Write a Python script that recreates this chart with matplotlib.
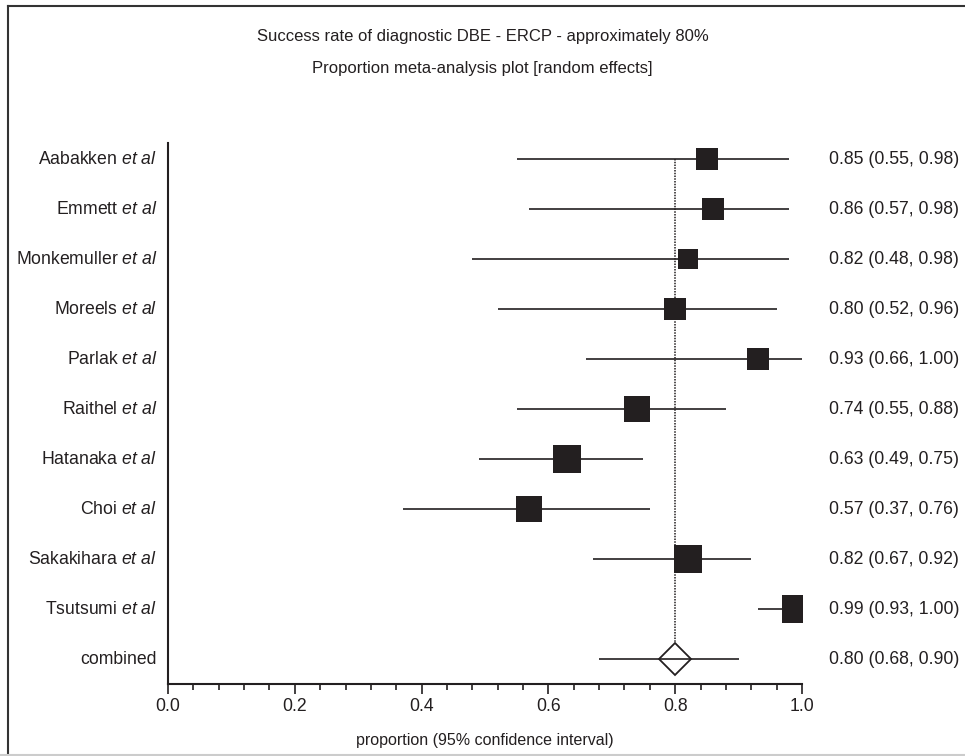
import numpy as np
import matplotlib
matplotlib.use('Agg')
import matplotlib.pyplot as plt
from matplotlib.lines import Line2D
from matplotlib.ticker import MultipleLocator

# study data (proportion with 95% CI)
studies = ['Aabakken', 'Emmett', 'Monkemuller', 'Moreels', 'Parlak',
           'Raithel', 'Hatanaka', 'Choi', 'Sakakihara', 'Tsutsumi']
proportions = [0.85, 0.86, 0.82, 0.80, 0.93, 0.74, 0.63, 0.57, 0.82, 0.99]
ci_low = [0.55, 0.57, 0.48, 0.52, 0.66, 0.55, 0.49, 0.37, 0.67, 0.93]
ci_high = [0.98, 0.98, 0.98, 0.96, 1.00, 0.88, 0.75, 0.76, 0.92, 1.00]
# relative weights (%)
weights = [8.2, 8.2, 6.8, 8.2, 8.2, 11.2, 12.7, 11.2, 12.4, 12.7]

pooled = 0.80
pooled_low = 0.68
pooled_high = 0.90

title1 = 'Success rate of diagnostic DBE - ERCP - approximately 80%'
title2 = 'Proportion meta-analysis plot [random effects]'
xlabel = 'proportion (95% confidence interval)'

plt.rcParams['font.family'] = ['Liberation Sans', 'DejaVu Sans']
plt.rcParams['mathtext.fontset'] = 'custom'
plt.rcParams['mathtext.rm'] = 'Liberation Sans'
plt.rcParams['mathtext.it'] = 'Liberation Sans:italic'

ink = '#231f20'
W, H = 965, 756
fig = plt.figure(figsize=(W / 100, H / 100), dpi=100)
ax = fig.add_axes([168 / W, 1 - 684 / H, (802 - 168) / W, (684 - 143) / H])

n = len(studies)
fs = 12.7

for i in range(n):
    y = -i
    ax.plot([ci_low[i], ci_high[i]], [y, y], color=ink, lw=1.2, solid_capstyle='butt')
    # box side in px ~ sqrt(weight), converted to points
    side = 7.68 * np.sqrt(weights[i]) * 0.72
    ax.plot(proportions[i], y, 's', ms=side, color=ink, mew=0)
    ax.text(-0.017, y, studies[i] + r' $\mathit{et\ al}$', transform=ax.get_yaxis_transform(),
            ha='right', va='center', fontsize=fs, color=ink)
    ax.text(1.043, y, f'{proportions[i]:.2f} ({ci_low[i]:.2f}, {ci_high[i]:.2f})',
            transform=ax.get_yaxis_transform(), ha='left', va='center', fontsize=fs, color=ink)

# combined estimate
yc = -n
ax.plot([pooled_low, pooled_high], [yc, yc], color=ink, lw=1.2, solid_capstyle='butt')
ax.plot(pooled, yc, 'D', ms=16.8, mfc='none', mec=ink, mew=1.3)
ax.plot([pooled, pooled], [0, yc + 0.33], color=ink, lw=1.1, ls=(0, (1, 0.8)))
ax.text(-0.017, yc, 'combined', transform=ax.get_yaxis_transform(),
        ha='right', va='center', fontsize=fs, color=ink)
ax.text(1.043, yc, f'{pooled:.2f} ({pooled_low:.2f}, {pooled_high:.2f})',
        transform=ax.get_yaxis_transform(), ha='left', va='center', fontsize=fs, color=ink)

ax.set_xlim(0, 1)
ax.set_ylim(-n - 0.5, 0.32)
ax.xaxis.set_major_locator(MultipleLocator(0.2))
ax.xaxis.set_minor_locator(MultipleLocator(0.04))
ax.xaxis.set_major_formatter(matplotlib.ticker.FormatStrFormatter('%.1f'))
ax.tick_params(axis='x', which='major', length=7, width=1.2, color=ink,
               labelsize=fs, labelcolor=ink, pad=3)
ax.tick_params(axis='x', which='minor', length=4.3, width=1.2, color=ink)
ax.set_yticks([])
for s in ['top', 'right']:
    ax.spines[s].set_visible(False)
for s in ['left', 'bottom']:
    ax.spines[s].set_linewidth(1.5)
    ax.spines[s].set_color(ink)
ax.set_xlabel(xlabel, fontsize=11.5, color=ink, labelpad=13)

fig.text(0.5, 1 - 37 / H, title1, ha='center', va='center', fontsize=12, color=ink)
fig.text(0.5, 1 - 69 / H, title2, ha='center', va='center', fontsize=12, color=ink)

# frame round the figure
fig.add_artist(Line2D([8 / W, 8 / W], [1 - 6 / H, 0], color='#333333', lw=1.5))
fig.add_artist(Line2D([8 / W, 1], [1 - 6 / H, 1 - 6 / H], color='#333333', lw=1.5))
fig.add_artist(Line2D([0, 1], [1 - 754.5 / H, 1 - 754.5 / H], color='#cccccc', lw=1.5))

fig.savefig('out.png', dpi=100)
